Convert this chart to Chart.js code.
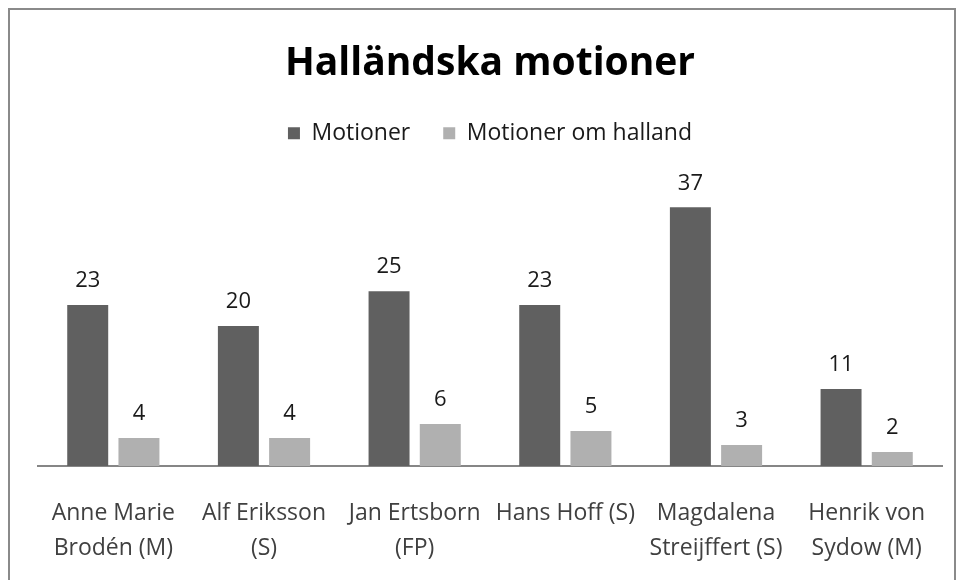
<!DOCTYPE html>
<html>
<head>
<meta charset="utf-8">
<script src="https://cdn.jsdelivr.net/npm/chart.js@4"></script>
<style>
  html, body { margin: 0; padding: 0; background: #fff; }
  #wrap { position: relative; width: 959px; height: 580px; overflow: hidden; }
  #frame { position: absolute; left: 8px; top: 8px; width: 948px; height: 600px; border: 2px solid #8a8a8a; box-sizing: border-box; }
  canvas { position: absolute; left: 0; top: 0; }
</style>
</head>
<body>
<div id="wrap">
  <div id="frame"></div>
  <canvas id="chart" width="959" height="580"></canvas>
</div>
<script>
'use strict';

// Data
const categories = [
  ['Anne Marie', 'Brodén (M)'],
  ['Alf Eriksson', '(S)'],
  ['Jan Ertsborn', '(FP)'],
  ['Hans Hoff (S)'],
  ['Magdalena', 'Streijffert (S)'],
  ['Henrik von', 'Sydow (M)']
];
const motioner = [23, 20, 25, 23, 37, 11];
const motionerOmHalland = [4, 4, 6, 5, 3, 2];

const FONT = "'Open Sans', sans-serif";

// Value labels above each bar
const valueLabels = {
  id: 'valueLabels',
  afterDatasetsDraw(chart) {
    const ctx = chart.ctx;
    ctx.save();
    ctx.font = '22px ' + FONT;
    ctx.fillStyle = '#1a1a1a';
    ctx.textAlign = 'center';
    ctx.textBaseline = 'middle';
    chart.data.datasets.forEach((ds, i) => {
      chart.getDatasetMeta(i).data.forEach((bar, j) => {
        ctx.fillText(ds.data[j], bar.x, bar.y - 24);
      });
    });
    ctx.restore();
  }
};

const ctx = document.getElementById('chart').getContext('2d');
const chart = new Chart(ctx, {
  type: 'bar',
  data: {
    labels: categories,
    datasets: [
      {
        label: 'Motioner',
        data: motioner,
        backgroundColor: '#606060',
        categoryPercentage: 0.68,
        barPercentage: 0.8
      },
      {
        label: 'Motioner om halland',
        data: motionerOmHalland,
        backgroundColor: '#b0b0b0',
        categoryPercentage: 0.68,
        barPercentage: 0.8
      }
    ]
  },
  options: {
    responsive: false,
    animation: false,
    layout: { padding: { left: 38, right: 17, top: 40, bottom: -16 } },
    plugins: {
      title: {
        display: true,
        text: 'Halländska motioner',
        color: '#000',
        font: { family: FONT, size: 39, weight: 'bold' },
        padding: { top: 0, bottom: 2 }
      },
      legend: {
        display: true,
        position: 'top',
        labels: {
          color: '#1a1a1a',
          font: { family: FONT, size: 23 },
          boxWidth: 12,
          boxHeight: 12,
          padding: 33
        }
      },
      tooltip: { enabled: false }
    },
    scales: {
      x: {
        grid: { display: false, drawTicks: false },
        border: { color: '#868686', width: 2 },
        ticks: {
          color: '#404040',
          font: { family: FONT, size: 23, lineHeight: 1.48 },
          padding: 31,
          maxRotation: 0,
          autoSkip: false
        }
      },
      y: {
        display: false,
        min: 0,
        max: 44.5
      }
    }
  },
  plugins: [valueLabels]
});
</script>
</body>
</html>
